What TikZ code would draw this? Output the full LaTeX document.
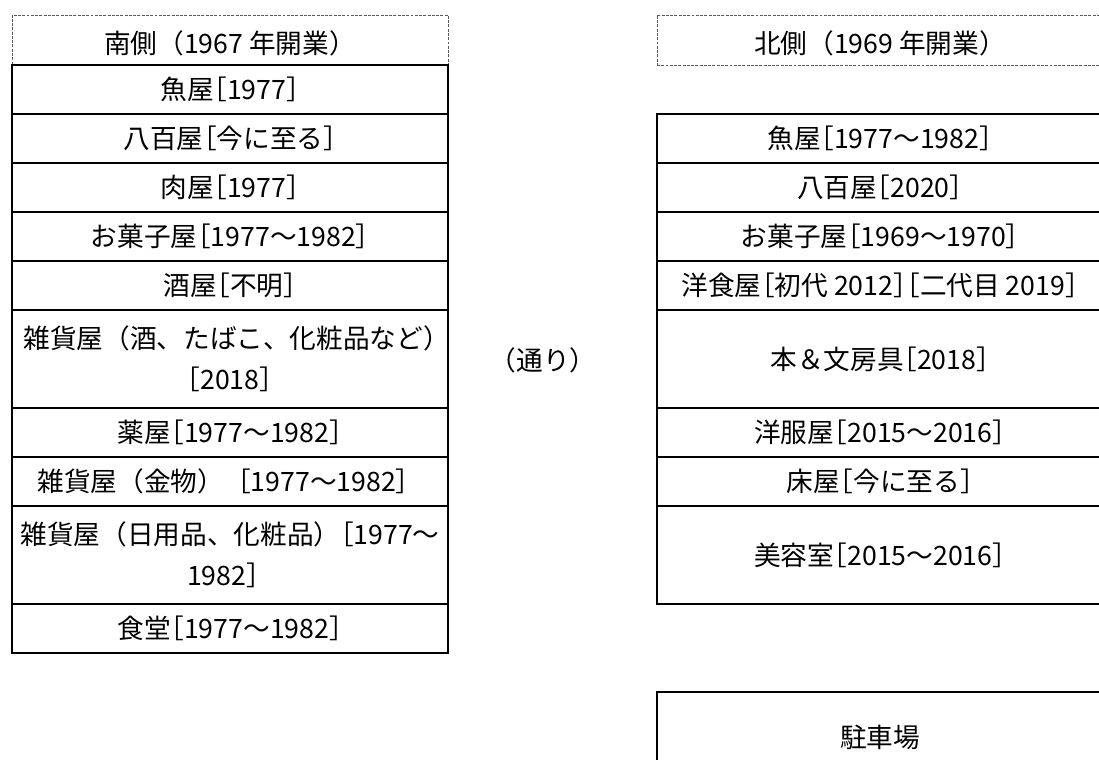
\documentclass[tikz,border=0pt]{standalone}
\usepackage{fontspec}
\setmainfont{Noto Sans CJK JP}
\newfontfamily\tightfont[RawFeature=+halt]{Noto Sans CJK JP}
\newcommand{\shopsize}{\fontsize{20pt}{30.5pt}\selectfont}
\usetikzlibrary{positioning}

\begin{document}
\begin{tikzpicture}[
    x=0.75pt,y=-0.75pt,
    node distance=0pt,
    every node/.style={inner sep=0pt,outer sep=0pt,align=center,font=\shopsize},
    tight/.style={font=\tightfont\shopsize},
    shop/.style={draw,line width=1pt,minimum height=36.75pt},
    tallshop/.style={shop,minimum height=73.5pt},
    southcol/.style={minimum width=327pt},
    northcol/.style={minimum width=334.5pt},
    sidehead/.style={draw=gray!70!black,dash pattern=on 2.2pt off 1pt,line width=0.6pt,minimum height=37.5pt,text height=22pt,text depth=2pt}
]
\clip (0,0) rectangle (1099,760);

% south side
\node[sidehead,southcol] (sHead) at (230,40) {南側（1967 年開業）};
\node[shop,tight,southcol,below=of sHead] (s1) {魚屋［1977］};
\node[shop,tight,southcol,below=of s1] (s2) {八百屋［今に至る］};
\node[shop,tight,southcol,below=of s2] (s3) {肉屋［1977］};
\node[shop,tight,southcol,below=of s3] (s4) {お菓子屋［1977〜1982］};
\node[shop,tight,southcol,below=of s4] (s5) {酒屋［不明］};
\node[tallshop,southcol,below=of s5] (s6) {雑貨屋（酒、たばこ、化粧品など{\tightfont ）}\\［2018］};
\node[shop,tight,southcol,below=of s6] (s7) {薬屋［1977〜1982］};
\node[shop,southcol,below=of s7] (s8) {雑貨屋（金物）［1977〜1982］};
\node[tallshop,southcol,below=of s8] (s9) {雑貨屋（日用品、化粧品）{\tightfont ［}1977〜\\1982］};
\node[shop,tight,southcol,below=of s9] (s10) {食堂［1977〜1982］};

% street
\node (street) at (543,360) {（通り）};

% north side
\node[sidehead,northcol] (nHead) at (880,40) {北側（1969 年開業）};
\node[shop,tight,northcol,below=36.75pt of nHead] (n1) {魚屋［1977〜1982］};
\node[shop,tight,northcol,below=of n1] (n2) {八百屋［2020］};
\node[shop,tight,northcol,below=of n2] (n3) {お菓子屋［1969〜1970］};
\node[shop,tight,northcol,below=of n3] (n4) {洋食屋［初代 2012］［二代目 2019］};
\node[tallshop,tight,northcol,below=of n4] (n5) {本＆文房具［2018］};
\node[shop,tight,northcol,below=of n5] (n6) {洋服屋［2015〜2016］};
\node[shop,tight,northcol,below=of n6] (n7) {床屋［今に至る］};
\node[tallshop,tight,northcol,below=of n7] (n8) {美容室［2015〜2016］};
\node[shop,northcol,minimum height=67.5pt,below=66pt of n8] (park) {駐車場};
\end{tikzpicture}
\end{document}
